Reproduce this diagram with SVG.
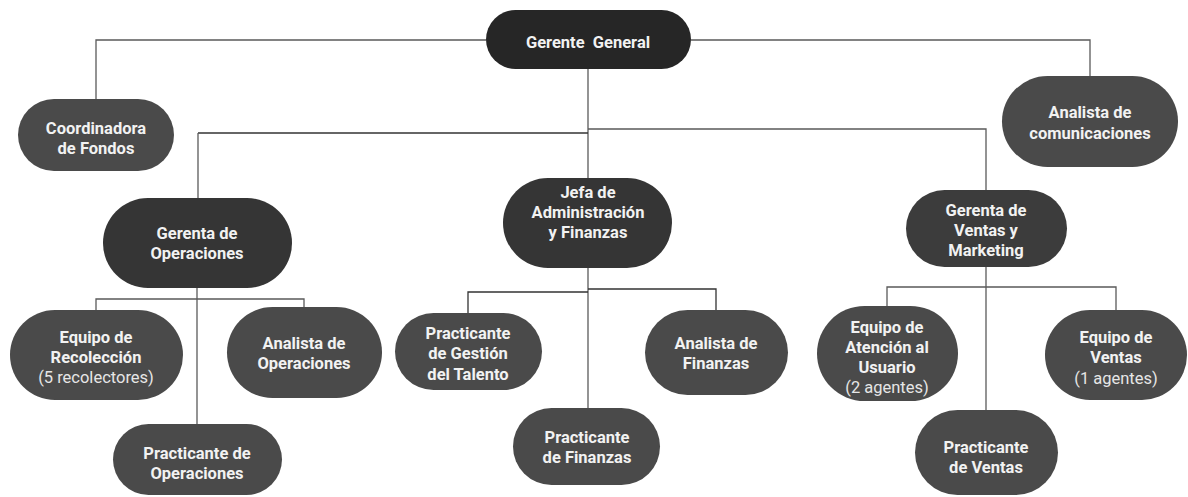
<svg xmlns="http://www.w3.org/2000/svg" width="1188" height="497" viewBox="0 0 1188 497">
<style>
.n{fill:#4a4a4a}
.d1{fill:#262626}
.d2{fill:#353535}
.d3{fill:#3c3c3c}
text{font-family:Roboto,"Liberation Sans",Arial,sans-serif;font-size:16.5px;font-weight:700;fill:#f2f2f2;text-anchor:middle}
.r{font-weight:400;fill:#e6e6e6}
.c path{fill:none;stroke:#5a5a5a;stroke-width:1.3}
.c .k{stroke:#333}
</style>
<rect width="1188" height="497" fill="#ffffff"/>
<g class="c" id="connectors">
<path d="M486,40 H96 V99"/>
<path d="M691,40 H1090 V76"/>
<path d="M588,69 V178"/>
<path class="k" d="M198,133 H588"/>
<path d="M198,133 V198"/>
<path d="M588,129 H986 V190"/>
<path d="M197,288 V424"/>
<path d="M96,310 V299 H304 V307"/>
<path d="M588,268 V408"/>
<path class="k" d="M468,313 V292 H588"/>
<path class="k" d="M588,289 H716 V310"/>
<path d="M986,267 V410"/>
<path d="M887,306 V287 H1116 V310"/>
</g>
<g id="gerente-general"><rect class="d1" x="486" y="10" width="205" height="59" rx="29.5"/><text x="588" y="48" style="white-space:pre">Gerente  General</text></g>
<g id="coordinadora"><rect class="n" x="18" y="99" width="156" height="72" rx="36"/><text x="96" y="134">Coordinadora</text><text x="96" y="154">de Fondos</text></g>
<g id="analista-comunicaciones"><rect class="n" x="1002" y="76" width="176" height="91" rx="45.5"/><text x="1090" y="118">Analista de</text><text x="1090" y="138.5">comunicaciones</text></g>
<g id="gerenta-operaciones"><rect class="d2" x="103" y="198" width="189" height="90" rx="45"/><text x="197" y="239">Gerenta de</text><text x="197" y="259">Operaciones</text></g>
<g id="jefa-administracion"><rect class="d2" x="503" y="178" width="169" height="90" rx="45"/><text x="588" y="198">Jefa de</text><text x="588" y="218">Administración</text><text x="588" y="238">y Finanzas</text></g>
<g id="gerenta-ventas"><rect class="d3" x="906" y="190" width="161" height="77" rx="38.5"/><text x="986" y="216">Gerenta de</text><text x="986" y="236">Ventas y</text><text x="986" y="256">Marketing</text></g>
<g id="equipo-recoleccion"><rect class="n" x="10" y="310" width="173" height="90" rx="45"/><text x="96" y="343">Equipo de</text><text x="96" y="363">Recolección</text><text class="r" x="96" y="383">(5 recolectores)</text></g>
<g id="analista-operaciones"><rect class="n" x="227" y="307" width="155" height="91" rx="45.5"/><text x="304" y="349">Analista de</text><text x="304" y="369">Operaciones</text></g>
<g id="practicante-operaciones"><rect class="n" x="113" y="424" width="169" height="71" rx="35.5"/><text x="197" y="459">Practicante de</text><text x="197" y="479">Operaciones</text></g>
<g id="practicante-gestion"><rect class="n" x="395" y="313" width="147" height="77" rx="38.5"/><text x="468" y="339">Practicante</text><text x="468" y="359">de Gestión</text><text x="468" y="379.5">del Talento</text></g>
<g id="analista-finanzas"><rect class="n" x="645" y="310" width="143" height="85" rx="42.5"/><text x="716" y="349">Analista de</text><text x="716" y="369">Finanzas</text></g>
<g id="practicante-finanzas"><rect class="n" x="513" y="408" width="147" height="77" rx="38.5"/><text x="587" y="443">Practicante</text><text x="587" y="463">de Finanzas</text></g>
<g id="equipo-atencion"><rect class="n" x="817" y="306" width="141" height="95" rx="47.5"/><text x="887" y="333">Equipo de</text><text x="887" y="353">Atención al</text><text x="887" y="373">Usuario</text><text class="r" x="887" y="393">(2 agentes)</text></g>
<g id="equipo-ventas"><rect class="n" x="1045" y="310" width="142" height="90" rx="45"/><text x="1116" y="343">Equipo de</text><text x="1116" y="363">Ventas</text><text class="r" x="1116" y="383.5">(1 agentes)</text></g>
<g id="practicante-ventas"><rect class="n" x="915" y="410" width="143" height="85" rx="42.5"/><text x="986" y="453">Practicante</text><text x="986" y="473">de Ventas</text></g>
</svg>
